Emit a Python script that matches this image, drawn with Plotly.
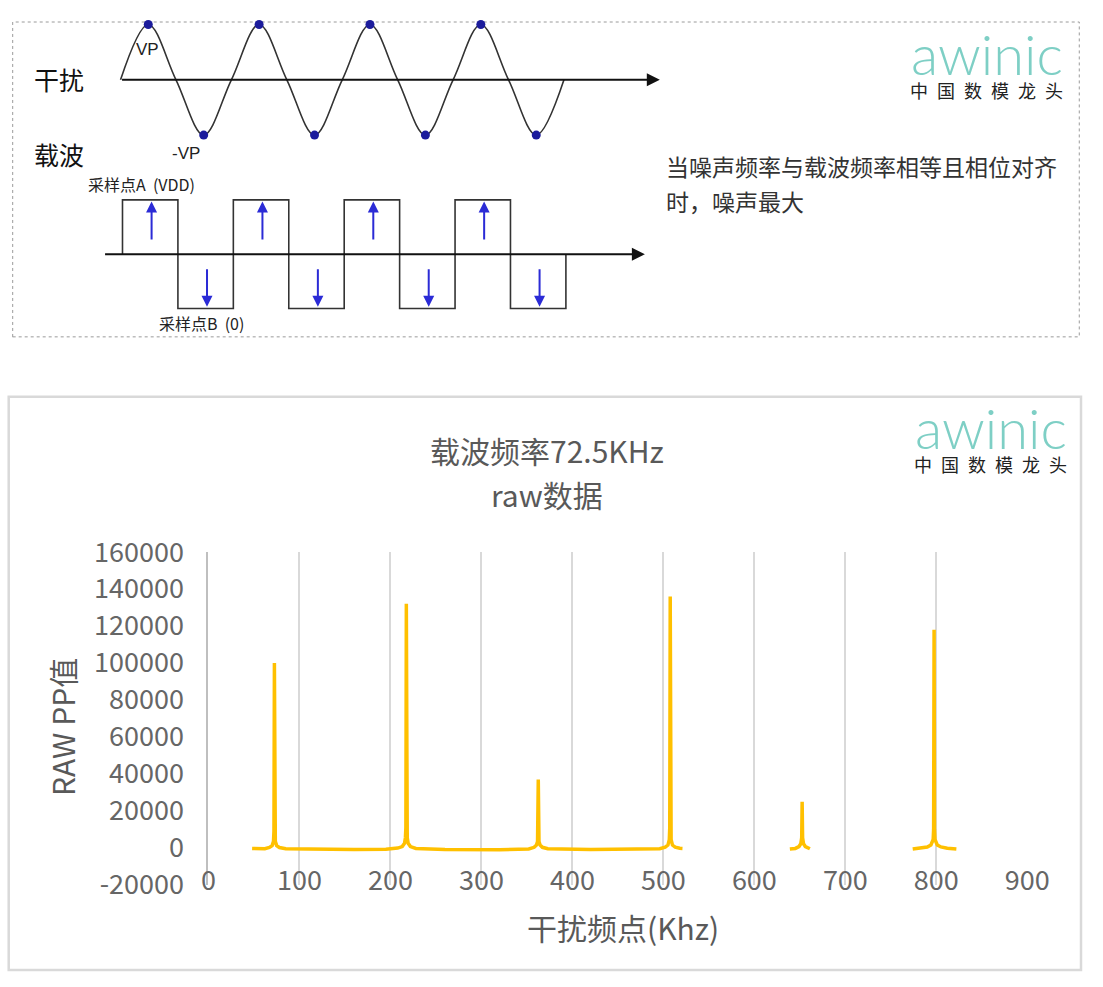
import plotly.graph_objects as go

# ------------------------------------------------------------------
# Bottom chart data: interference frequency (kHz) vs RAW PP value
# (carrier 72.5 kHz -> peaks at odd harmonics)
# ------------------------------------------------------------------
freq_khz = [
    48, 55, 62, 67, 70, 71.5, 72, 72.5, 73, 73.5, 75, 78, 85, 120, 160, 195,
    208, 213, 215.5, 216.5, 217, 217.5, 218, 218.5, 219.5, 222, 228, 260, 320, 352,
    358, 360.5, 361.7, 362.5, 363.3, 364.5, 367, 373, 420, 470, 496,
    502, 505, 506.5, 507, 507.5, 508, 508.5, 510, 513, 518, 521,
    None,
    639, 645, 649, 651, 652, 652.5, 653, 654, 656, 661,
    None,
    774, 783, 790, 794, 796.5, 797, 797.5, 798, 798.5, 801, 805, 812, 822,
]
raw_pp = [
    -300, -500, -500, 200, 1200, 3500, 9000, 100000, 9000, 3500, 1200, 200, -500, -800, -900, -700,
    -100, 700, 2500, 5500, 11000, 132000, 11000, 5500, 2500, 700, -300, -900, -1000, -600,
    300, 1500, 3500, 37000, 3500, 1500, 300, -500, -900, -800, -500,
    400, 1500, 4500, 11000, 136000, 11000, 4500, 1500, 400, -200, -300,
    None,
    -600, -300, 700, 2200, 5500, 25000, 5500, 2200, 700, -500,
    None,
    -600, -200, 500, 1600, 4500, 10000, 118000, 10000, 4500, 1600, 500, -200, -600,
]
y_tick_vals = [-20000, 0, 20000, 40000, 60000, 80000, 100000, 120000, 140000, 160000]
y_tick_text = ["-20000", "0", "20000", "40000", "60000", "80000", "100000", "120000", "140000", "160000"]
y_grid_vals = [0, 20000, 40000, 60000, 80000, 100000, 120000, 140000, 160000]
x_tick_vals = [0, 100, 200, 300, 400, 500, 600, 700, 800, 900]

chart_title_1 = "载波频率72.5KHz"
chart_title_2 = "raw数据"
x_title = "干扰频点(Khz)"
y_title = "RAW PP值"

# ------------------------------------------------------------------
# Top schematic data (phase in quarter periods, normalised level)
# ------------------------------------------------------------------
sine_phase = [0, 1, 2, 3, 4, 5, 6, 7, 8, 9, 10, 11, 12, 13, 14, 15, 16]
sine_level = [0, 1, 0, -1, 0, 1, 0, -1, 0, 1, 0, -1, 0, 1, 0, -1, 0]
vp_phase = [1, 5, 9, 13]
vp_level = [1, 1, 1, 1]
nvp_phase = [3, 7, 11, 15]
nvp_level = [-1, -1, -1, -1]
carrier_phase = [0.07, 0.07, 2.07, 4.07, 6.07, 8.07, 10.07, 12.07, 14.07, 16.07]
carrier_level = [0, 1, -1, 1, -1, 1, -1, 1, -1, 0]
sample_a_phase = [1.12, 5.12, 9.12, 13.12]
sample_b_phase = [3.12, 7.12, 11.12, 15.12]

note_line_1 = "当噪声频率与载波频率相等且相位对齐"
note_line_2 = "时，噪声最大"
logo_text = "awinic"
logo_sub = "中\u2002国\u2002数\u2002模\u2002龙\u2002头"

# ------------------------------------------------------------------
# layout helpers: positions are given in target-picture pixels and
# converted to paper fractions (the rendered page maps paper -> picture
# with a slight offset/scale, compensated here)
# ------------------------------------------------------------------
W, H = 1103, 987
AX, SX, AY, SY = 6.3, 0.975, 20.0, 0.964
U = 27.75      # px per quarter period (top schematic)
SA = 55.5      # px per unit amplitude (sine)
CA = 54.5      # px per unit amplitude (carrier)


def px(p):
    return min(max(((p - AX) / SX) / W, 0.0), 1.0)


def py(p):
    return min(max(1 - ((p - AY) / SY) / H, 0.0), 1.0)


CJK = "Noto Sans CJK SC, Noto Sans, sans-serif"
GREY_TXT = "#595959"

fig = go.Figure()

# bottom spectrum
fig.add_trace(go.Scatter(
    x=freq_khz, y=raw_pp, mode="lines", connectgaps=False,
    line=dict(color="#FFC000", width=3.5), hoverinfo="x+y", showlegend=False,
    xaxis="x", yaxis="y",
))

# top schematic
fig.add_trace(go.Scatter(
    x=sine_phase, y=sine_level, mode="lines", xaxis="x2", yaxis="y2",
    line=dict(color="#333333", width=1.6, shape="spline", smoothing=1.0),
    showlegend=False, hoverinfo="skip",
))
fig.add_trace(go.Scatter(
    x=vp_phase + nvp_phase, y=vp_level + nvp_level, mode="markers",
    xaxis="x2", yaxis="y2", marker=dict(color="#1c1c9c", size=9),
    showlegend=False, hoverinfo="skip", cliponaxis=False,
))
fig.add_trace(go.Scatter(
    x=carrier_phase, y=carrier_level, mode="lines", xaxis="x2", yaxis="y3",
    line=dict(color="#333333", width=1.6, shape="hv"),
    showlegend=False, hoverinfo="skip",
))

annotations = []

# axis arrows of schematic
annotations.append(dict(x=(660 - 120) / U, y=0, ax=0, ay=0, xref="x2", yref="y2",
                        axref="x2", ayref="y2", text="", showarrow=True,
                        arrowhead=2, arrowsize=1.3, arrowwidth=2, arrowcolor="#111"))
annotations.append(dict(x=(645 - 120) / U, y=0, ax=(103 - 120) / U, ay=0, xref="x2", yref="y3",
                        axref="x2", ayref="y3", text="", showarrow=True,
                        arrowhead=2, arrowsize=1.3, arrowwidth=2, arrowcolor="#111"))
# sampling arrows
for p in sample_a_phase:
    annotations.append(dict(x=p, y=0.97, ax=p, ay=0.24, xref="x2", yref="y3",
                            axref="x2", ayref="y3", text="", showarrow=True,
                            arrowhead=2, arrowsize=1.1, arrowwidth=2, arrowcolor="#2b2bd6"))
for p in sample_b_phase:
    annotations.append(dict(x=p, y=-0.97, ax=p, ay=-0.25, xref="x2", yref="y3",
                            axref="x2", ayref="y3", text="", showarrow=True,
                            arrowhead=2, arrowsize=1.1, arrowwidth=2, arrowcolor="#2b2bd6"))


def label(xp, yp, text, size, color, family=CJK, xanchor="center", **kw):
    return dict(x=px(xp), y=py(yp), xref="paper", yref="paper", text=text, showarrow=False,
                xanchor=xanchor, yanchor="middle",
                font=dict(family=family, size=size, color=color), **kw)


NARROW = "Liberation Sans Narrow, Liberation Sans, sans-serif"
annotations += [
    label(58, 77, "干扰", 25, "#111"),
    label(58, 152, "载波", 25, "#111"),
    label(147, 48, "VP", 17, "#222", family=NARROW),
    label(186, 152, "-VP", 17, "#222", family=NARROW),
    label(141, 183, "采样点A  (VDD)", 16, "#222"),
    label(201, 322, "采样点B  (0)", 16, "#222"),
    label(664, 165, note_line_1, 23, "#333", xanchor="left"),
    label(664, 200, note_line_2, 23, "#333", xanchor="left"),
]

# logos (one text block each: big teal word + small Chinese line)
logo_html = ("<span style='font-size:56px;color:#7ecfc5;font-family:Lato, Open Sans, sans-serif;"
             "font-weight:300'>" + logo_text + "</span><br>" + logo_sub)
for (rx, cy) in [(1066, 60), (1070, 435)]:
    annotations.append(dict(x=px(rx), y=py(cy), xref="paper", yref="paper", text=logo_html,
                            showarrow=False, xanchor="right", yanchor="middle", align="right",
                            font=dict(family=CJK, size=18, color="#222")))

# bottom chart titles
annotations += [
    label(547, 450, chart_title_1, 30, GREY_TXT),
    label(547, 494, chart_title_2, 30, GREY_TXT),
    label(623, 928, x_title, 30, GREY_TXT),
    label(62, 728, y_title, 30, GREY_TXT, textangle=-90),
]

shapes = [
    dict(type="rect", xref="paper", yref="paper", x0=px(12), x1=px(1080), y0=py(336), y1=py(18),
         line=dict(color="#9a9a9a", width=1, dash="dot"), layer="below"),
    dict(type="rect", xref="paper", yref="paper", x0=px(8), x1=px(1084), y0=py(974), y1=py(396),
         line=dict(color="#d9d9d9", width=2.5), layer="below"),
]

tick_font = dict(family=CJK, size=27, color="#666666")

fig.update_layout(
    width=W, height=H, autosize=False,
    margin=dict(l=0, r=0, t=0, b=0, pad=0),
    paper_bgcolor="white", plot_bgcolor="rgba(0,0,0,0)",
    showlegend=False,
    xaxis=dict(domain=[px(208), px(1028)], range=[0, 900], tickvals=x_tick_vals,
               showgrid=True, gridcolor="#d9d9d9", gridwidth=1.5, zeroline=False,
               showline=False, ticks="", anchor="free", position=py(849),
               tickfont=tick_font, ticklabelstandoff=14, fixedrange=True),
    yaxis=dict(domain=[py(886), py(552)], range=[-20000, 160000], tickvals=y_tick_vals,
               ticktext=y_tick_text, showgrid=False, zeroline=False,
               showline=True, linecolor="#bfbfbf", linewidth=2, ticks="",
               tickfont=tick_font, ticklabelstandoff=17, anchor="x", fixedrange=True),
    yaxis4=dict(overlaying="y", anchor="x", range=[-20000, 160000], tickvals=y_grid_vals,
                showgrid=True, gridcolor="#d9d9d9", gridwidth=1.5, showticklabels=False,
                zeroline=False, ticks="", showline=False, fixedrange=True),
    xaxis2=dict(domain=[px(20), px(1060)], range=[(20 - 120) / U, (1060 - 120) / U],
                visible=False, anchor="y2", fixedrange=True),
    yaxis2=dict(domain=[py(170), py(21)], range=[-(170 - 78) / SA, (78 - 21) / SA],
                visible=False, anchor="x2", fixedrange=True),
    yaxis3=dict(domain=[py(340), py(170)], range=[-(340 - 253) / CA, (253 - 170) / CA],
                visible=False, anchor="x2", fixedrange=True),
    annotations=annotations,
    shapes=shapes,
)

fig.write_html("out.html", config={"displayModeBar": False},
               post_script="document.body.style.margin='0';document.body.style.overflow='hidden';")
